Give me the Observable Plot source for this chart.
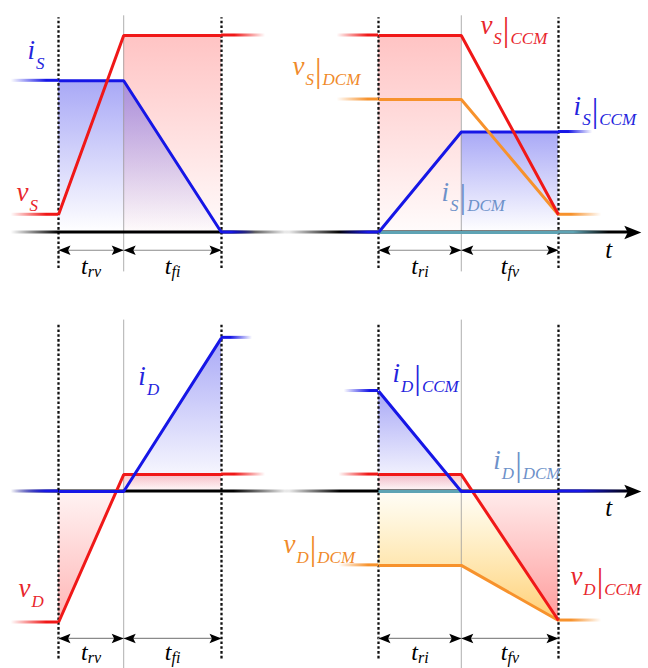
<!DOCTYPE html>
<html><head><meta charset="utf-8">
<script src="https://cdn.jsdelivr.net/npm/d3@7"></script>
<script src="https://cdn.jsdelivr.net/npm/@observablehq/plot@0.6"></script>
<style>
body{margin:0;background:#fff}
#fig{position:relative;width:648px;height:668px;overflow:hidden;background:#fff}
#fig svg{position:absolute}
</style></head><body>
<div id="fig"></div>
<script>
// ---------------- data ----------------
const offTimes = [0, 2, 5];     // t0, end of t_rv, end of t_fi (left column)
const onTimes  = [0, 2.3, 5];   // t0, end of t_ri, end of t_fv (right column)
const offIntervals = ["t_rv", "t_fi"];
const onIntervals  = ["t_ri", "t_fv"];

// top-left: switch turn-off
const vS_off = [{t:0, v:0.09}, {t:2, v:1}, {t:5, v:1}];
const iS_off = [{t:0, v:0.77}, {t:2, v:0.77}, {t:5, v:0}];
// top-right: switch turn-on (CCM / DCM)
const vS_ccm = [{t:0, v:1}, {t:2.3, v:1}, {t:5, v:0.09}];
const vS_dcm = [{t:0, v:0.675}, {t:2.3, v:0.675}, {t:5, v:0.09}];
const iS_ccm = [{t:0, v:0}, {t:2.3, v:0.51}, {t:5, v:0.51}];
const iS_dcm = [{t:0, v:0}, {t:5, v:0}];
// bottom-left: diode during switch turn-off
const vD_off = [{t:0, v:-0.665}, {t:2, v:0.086}, {t:5, v:0.086}];
const iD_off = [{t:0, v:0}, {t:2, v:0}, {t:5, v:0.78}];
// bottom-right: diode during switch turn-on (CCM / DCM)
const iD_ccm = [{t:0, v:0.51}, {t:2.3, v:0}, {t:5, v:0}];
const iD_dcm = [{t:0, v:0}, {t:2.3, v:0}];
const vD_ccm = [{t:0, v:0.086}, {t:2.3, v:0.086}, {t:5, v:-0.655}];
const vD_dcm = [{t:0, v:-0.375}, {t:2.3, v:-0.375}, {t:5, v:-0.655}];

// fading lead-in / lead-out stubs of each trace
const stubsTL = [
  {t1:-1.45, t2:0, v:0.09, series:"red", fade:"in"},
  {t1:-1.45, t2:0, v:0.77, series:"blue", fade:"in"},
  {t1:5, t2:6.35, v:1, series:"red", fade:"out"},
  {t1:5, t2:6.05, v:0, series:"blue", fade:"out"}];
const stubsTR = [
  {t1:-1.15, t2:0, v:1, series:"red", fade:"in"},
  {t1:-1.15, t2:0, v:0.675, series:"orange", fade:"in"},
  {t1:-1.1, t2:0, v:0, series:"blue", fade:"in"},
  {t1:5, t2:6.4, v:0, series:"teal", fade:"out"},
  {t1:5, t2:6.2, v:0.09, series:"orange", fade:"out"},
  {t1:5, t2:5.95, v:0.51, series:"blue", fade:"out"}];
const stubsBL = [
  {t1:-1.45, t2:0, v:0, series:"blue", fade:"in"},
  {t1:-1.45, t2:0, v:-0.665, series:"red", fade:"in"},
  {t1:5, t2:6.35, v:0.086, series:"red", fade:"out"},
  {t1:5, t2:5.95, v:0.78, series:"blue", fade:"out"}];
const stubsBR = [
  {t1:-0.95, t2:0, v:0.51, series:"blue", fade:"in"},
  {t1:-1.1, t2:0, v:0.086, series:"red", fade:"in"},
  {t1:-1.1, t2:0, v:-0.375, series:"orange", fade:"in"},
  {t1:5, t2:6.2, v:-0.655, series:"orange", fade:"out"},
  {t1:5, t2:7.0, v:0, series:"blue", fade:"out"}];

// trace labels
const labelsTL = [{t:-0.95, v:0.883, text:"i_S", series:"blue"}, {t:-1.29, v:0.162, text:"v_S", series:"red"}];
const labelsTR = [
  {t:2.83, v:1.01, text:"v_S|CCM", series:"red"},
  {t:-2.39, v:0.80, text:"v_S|DCM", series:"orange"},
  {t:5.42, v:0.594, text:"i_S|CCM", series:"blue"},
  {t:1.75, v:0.162, text:"i_S|DCM", series:"steel"}];
const labelsBL = [{t:2.45, v:0.543, text:"i_D", series:"blue"}, {t:-1.23, v:-0.538, text:"v_D", series:"red"}];
const labelsBR = [
  {t:0.39, v:0.558, text:"i_D|CCM", series:"blue"},
  {t:3.19, v:0.112, text:"i_D|DCM", series:"steel"},
  {t:-2.64, v:-0.31, text:"v_D|DCM", series:"orange"},
  {t:5.33, v:-0.477, text:"v_D|CCM", series:"red"}];
const timeAxisLabel = ["t"];

// ---------------- styles / layout ----------------
const FONT = "'Liberation Serif', 'Times New Roman', 'DejaVu Serif', serif";
const seriesColor = {red:"#f01818", blue:"#1616e6", orange:"#f7922c", teal:"#5ea3b4", black:"#000000"};
const labelColor = {red:"#e8262c", blue:"#2424dd", orange:"#f08a2a", steel:"#6d91c9"};
const cols = {
  left:  {x0:58,  ppu:32.6, left:0,   width:300, axis:[-1.45, 7.1], axisGrad:"both-black", arrowTip:null},
  right: {x0:378, ppu:36,   left:280, width:368, axis:[-2.6, 7.05], axisGrad:"axisin-black", arrowTip:7.3}
};
const rows = {
  top:    {base:232, top:0,   height:290, dash:[-0.183, 1.09], mid:[-0.2, 1.1],  dim:-0.09,  tl:-0.213, tLab:-0.127},
  bottom: {base:491, top:300, height:368, dash:[-0.85, 0.845], mid:[-0.9, 0.87], dim:-0.746, tl:-0.853, tLab:-0.122}
};
const pxPerLevel = 197;

const fig = d3.select("#fig");
const defs = fig.append("svg").attr("width", 0).attr("height", 0).append("defs");
function grad(id, horizontal, stops) {
  const g = defs.append("linearGradient").attr("id", id)
    .attr("x1", 0).attr("y1", 0).attr("x2", horizontal ? 1 : 0).attr("y2", horizontal ? 0 : 1);
  for (const [o, c, op] of stops) g.append("stop").attr("offset", o).attr("stop-color", c).attr("stop-opacity", op);
}
for (const [k, c] of Object.entries(seriesColor)) {
  grad(`in-${k}`, true, [[0, c, 0], [0.75, c, 1], [1, c, 1]]);
  grad(`out-${k}`, true, [[0, c, 1], [0.3, c, 1], [1, c, 0]]);
}
grad("both-black", true, [[0, "#000", 0], [0.17, "#000", 1], [0.8, "#000", 1], [1, "#000", 0]]);
grad("axisin-black", true, [[0, "#000", 0], [0.16, "#000", 1], [1, "#000", 1]]);
grad("fill-blue", false, [[0, "#3030ea", 0.42], [1, "#3030ea", 0.0]]);
grad("fill-red-down", false, [[0, "#ff4545", 0.32], [1, "#ff4545", 0.02]]);
grad("fill-red-up", false, [[0, "#ff4545", 0.02], [1, "#ff4545", 0.4]]);
grad("fill-red-up-opaque", false, [[0, "#fff6f6", 1], [1, "#ff9c9c", 1]]);
grad("fill-orange-up", false, [[0, "#ffcc33", 0.04], [1, "#ffae1a", 0.6]]);

const arrowRight = {draw(ctx, size) { const r = Math.sqrt(size / Math.PI);
  ctx.moveTo(0, 0); ctx.lineTo(-2 * r, -0.8 * r); ctx.lineTo(-1.6 * r, 0); ctx.lineTo(-2 * r, 0.8 * r); ctx.closePath(); }};
const arrowLeft = {draw(ctx, size) { const r = Math.sqrt(size / Math.PI);
  ctx.moveTo(0, 0); ctx.lineTo(2 * r, -0.8 * r); ctx.lineTo(1.6 * r, 0); ctx.lineTo(2 * r, 0.8 * r); ctx.closePath(); }};

function richLabels(svg) {
  d3.select(svg).selectAll("text").each(function () {
    const s = this.textContent;
    if (!s) return;
    const [base, mode] = s.split("|");
    const [main, sub] = base.split("_");
    const isTime = main === "t";
    const el = d3.select(this).text(null);
    el.append("tspan").text(main);
    if (sub) el.append("tspan").attr("font-size", isTime ? 16 : 17).attr("dy", isTime ? 3 : 10).attr("dx", isTime ? 0 : 1).text(sub);
    if (mode) {
      el.append("tspan").attr("font-size", 33).attr("font-style", "normal").attr("dy", -3).attr("dx", 1).text("|");
      el.append("tspan").attr("font-size", 17).attr("dy", 3).attr("dx", 1).text(mode);
    }
  });
}

function panel(colKey, rowKey, spec) {
  const c = cols[colKey], r = rows[rowKey];
  const xDomain = [(c.left - c.x0) / c.ppu, (c.left + c.width - c.x0) / c.ppu];
  const yDomain = [(r.base - r.top - r.height) / pxPerLevel, (r.base - r.top) / pxPerLevel];
  const times = spec.times;
  const iv = spec.intervals.map((name, i) => ({t1: times[i], t2: times[i + 1], name}));
  const marks = [];
  for (const f of spec.fills) marks.push(Plot.areaY(f.data, {x: "t", y: "v", fill: `url(#${f.grad})`}));
  marks.push(Plot.ruleX([times[1]], {x: d => d, y1: r.mid[0], y2: r.mid[1], stroke: "#9a9a9a", strokeWidth: 0.8}));
  marks.push(Plot.ruleX([times[0], times[2]], {x: d => d, y1: r.dash[0], y2: r.dash[1], stroke: "#111", strokeWidth: 2.3, strokeDasharray: "2.6,2.2"}));
  marks.push(Plot.rect([{t1: c.axis[0], t2: c.axis[1], v: 0}], {x1: "t1", x2: "t2", y1: "v", y2: "v", fill: `url(#${c.axisGrad})`, insetTop: -1.5, insetBottom: -1.5}));
  if (c.arrowTip != null) marks.push(Plot.dot([{t: c.arrowTip, v: 0}], {x: "t", y: "v", symbol: arrowRight, r: 8.5, fill: "#000", stroke: "none"}));
  for (const s of spec.stubs) marks.push(Plot.rect([s], {x1: "t1", x2: "t2", y1: "v", y2: "v", fill: `url(#${s.fade}-${s.series})`, insetTop: -1.5, insetBottom: -1.5}));
  for (const tr of spec.traces) marks.push(Plot.line(tr.data, {x: "t", y: "v", stroke: seriesColor[tr.series], strokeWidth: 3, strokeLinejoin: "miter", strokeLinecap: "butt"}));
  marks.push(Plot.ruleY(iv, {x1: "t1", x2: "t2", y: r.dim, stroke: "#8a8a8a", strokeWidth: 1.2}));
  marks.push(Plot.dot(iv, {x: "t1", y: r.dim, symbol: arrowLeft, r: 6, fill: "#000", stroke: "none"}));
  marks.push(Plot.dot(iv, {x: "t2", y: r.dim, symbol: arrowRight, r: 6, fill: "#000", stroke: "none"}));
  marks.push(Plot.text(iv, {x: d => (d.t1 + d.t2) / 2, y: r.tl, text: "name", textAnchor: "middle", lineAnchor: "bottom",
    fontFamily: FONT, fontStyle: "italic", fontSize: 24, fill: "#000"}));
  if (c.arrowTip != null) marks.push(Plot.text(timeAxisLabel, {x: () => 6.3, y: r.tLab, text: d => d, textAnchor: "start", lineAnchor: "bottom",
    fontFamily: FONT, fontStyle: "italic", fontSize: 25, fill: "#000"}));
  marks.push(Plot.text(spec.labels, {x: "t", y: "v", text: "text", fill: d => labelColor[d.series], textAnchor: "start", lineAnchor: "bottom",
    fontFamily: FONT, fontStyle: "italic", fontSize: 27}));
  const chart = Plot.plot({
    width: c.width, height: r.height, margin: 0,
    x: {domain: xDomain, axis: null}, y: {domain: yDomain, axis: null},
    color: {type: "identity"},
    style: {background: "none", overflow: "visible"},
    marks
  });
  chart.style.left = c.left + "px";
  chart.style.top = r.top + "px";
  richLabels(chart);
  fig.node().append(chart);
}

panel("left", "top", {
  times: offTimes, intervals: offIntervals,
  fills: [{data: vS_off.slice(1), grad: "fill-red-down"}, {data: iS_off, grad: "fill-blue"}],
  stubs: stubsTL,
  traces: [{data: iS_off, series: "blue"}, {data: vS_off, series: "red"}],
  labels: labelsTL
});
panel("right", "top", {
  times: onTimes, intervals: onIntervals,
  fills: [{data: vS_ccm.slice(0, 2), grad: "fill-red-down"}, {data: iS_ccm.slice(1), grad: "fill-blue"}],
  stubs: stubsTR,
  traces: [{data: iS_dcm, series: "teal"}, {data: iS_ccm, series: "blue"}, {data: vS_dcm, series: "orange"}, {data: vS_ccm, series: "red"}],
  labels: labelsTR
});
panel("left", "bottom", {
  times: offTimes, intervals: offIntervals,
  fills: [{data: vD_off.slice(0, 2), grad: "fill-red-up"}, {data: vD_off.slice(1), grad: "fill-red-down"}, {data: iD_off.slice(1), grad: "fill-blue"}],
  stubs: stubsBL,
  traces: [{data: vD_off, series: "red"}, {data: iD_off, series: "blue"}],
  labels: labelsBL
});
panel("right", "bottom", {
  times: onTimes, intervals: onIntervals,
  fills: [{data: vD_dcm, grad: "fill-orange-up"}, {data: vD_ccm.slice(1), grad: "fill-red-up-opaque"}, {data: vD_ccm.slice(0, 2), grad: "fill-red-down"}, {data: iD_ccm.slice(0, 2), grad: "fill-blue"}],
  stubs: stubsBR,
  traces: [{data: iD_dcm, series: "teal"}, {data: vD_dcm, series: "orange"}, {data: vD_ccm, series: "red"}, {data: iD_ccm, series: "blue"}],
  labels: labelsBR
});
</script>
</body></html>
